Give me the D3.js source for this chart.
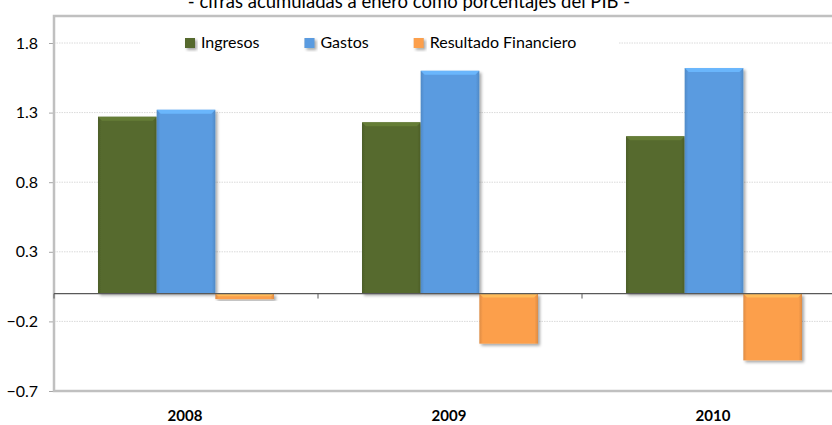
<!DOCTYPE html>
<html>
<head>
<meta charset="utf-8">
<script src="https://cdn.jsdelivr.net/npm/d3@7"></script>
<style>
  body { margin: 0; background: #fff; }
  svg { display: block; font-family: Lato, "Noto Sans", sans-serif; }
</style>
</head>
<body>
<svg id="chart"></svg>
<script>
const years = ["2008", "2009", "2010"];
const series = ["Ingresos", "Gastos", "Resultado Financiero"];
const ingresos = [1.27, 1.23, 1.13];
const gastos = [1.32, 1.60, 1.62];
const resultado = [-0.04, -0.36, -0.48];
const yTicks = [-0.7, -0.2, 0.3, 0.8, 1.3, 1.8];
const title = "- cifras acumuladas a enero como porcentajes del PIB -";

const colours = ["#566a2e", "#5a9be0", "#fc9f4c"];
const values = [ingresos, gastos, resultado];

const W = 832, H = 425;
const margin = { top: 16, right: -14, bottom: 34, left: 54 };
const width = W - margin.left - margin.right;
const height = H - margin.top - margin.bottom;

let svg = d3.select("#chart").attr("width", W).attr("height", H);

// gradients + shadow for the bevel look
let defs = svg.append("defs");
colours.forEach(function (c, i) {
  let g = defs.append("linearGradient").attr("id", "grad" + i)
    .attr("x1", 0).attr("x2", 1).attr("y1", 0).attr("y2", 0);
  let dark = d3.color(c).darker(0.35);
  g.append("stop").attr("offset", "0%").attr("stop-color", dark);
  g.append("stop").attr("offset", "6%").attr("stop-color", c);
  g.append("stop").attr("offset", "94%").attr("stop-color", c);
  g.append("stop").attr("offset", "100%").attr("stop-color", dark);
});
let shadow = defs.append("filter").attr("id", "shadow")
  .attr("x", "-20%").attr("y", "-20%").attr("width", "150%").attr("height", "150%");
shadow.append("feDropShadow").attr("dx", 2).attr("dy", 2)
  .attr("stdDeviation", 1.6).attr("flood-color", "#000").attr("flood-opacity", 0.35);

let container = svg.append("g")
  .attr("transform", "translate(" + margin.left + "," + margin.top + ")");

const x0 = d3.scaleBand().domain(years).range([0, width]).padding(0);
const x1 = d3.scaleBand().domain(series).range([0, x0.bandwidth()])
  .paddingInner(0).paddingOuter(0.75);
const y = d3.scaleLinear().domain([-0.7, 1.994]).range([height, 0]);

// title (cut by the top edge, as in the source image)
svg.append("text")
  .attr("x", 409).attr("y", 8)
  .attr("text-anchor", "middle")
  .attr("font-size", 18.5)
  .attr("fill", "#000")
  .text(title);

// gridlines
container.append("g")
  .selectAll("line")
  .data(yTicks.filter(d => d !== -0.7))
  .enter().append("line")
  .attr("x1", 0).attr("x2", width)
  .attr("y1", d => y(d)).attr("y2", d => y(d))
  .attr("stroke", "#dadada")
  .attr("stroke-dasharray", "1.5,1");

// y axis
let yAxis = container.append("g")
  .call(d3.axisLeft(y).tickValues(yTicks).tickFormat(d3.format(".1f"))
    .tickSize(5).tickPadding(11));
yAxis.select(".domain").remove();
yAxis.selectAll(".tick line").attr("stroke", "#a6a6a6");
yAxis.selectAll(".tick text").attr("font-size", 16).attr("fill", "#000")
  .attr("font-family", "Lato, 'Noto Sans', sans-serif");

// plot border
container.append("rect")
  .attr("x", 0).attr("y", 0).attr("width", width).attr("height", height)
  .attr("fill", "none").attr("stroke", "#c0c0c0").attr("stroke-width", 2.5);

// legend box (hides the gridline behind it)
let legend = container.append("g").attr("transform", "translate(86," + (y(1.8) - 13) + ")");
legend.append("rect")
  .attr("x", 0).attr("y", 0).attr("width", 478).attr("height", 26)
  .attr("fill", "#fff");
let lx = 45;
series.forEach(function (s, i) {
  let item = legend.append("g").attr("transform", "translate(" + lx + ",0)");
  item.append("rect")
    .attr("x", 0).attr("y", 8).attr("width", 10).attr("height", 10)
    .attr("fill", "url(#grad" + i + ")")
    .attr("filter", "url(#shadow)");
  let t = item.append("text")
    .attr("x", 16).attr("y", 18)
    .attr("font-size", 16).attr("fill", "#000")
    .text(s);
  lx += 16 + t.node().getComputedTextLength() + 45;
});

// bars
let groups = container.selectAll(".year")
  .data(years)
  .enter().append("g")
  .attr("class", "year")
  .attr("transform", d => "translate(" + x0(d) + ",0)");

groups.selectAll("g.bar")
  .data((d, yi) => series.map((s, si) => ({ s: s, si: si, v: values[si][yi] })))
  .enter().append("g")
  .attr("class", "bar")
  .each(function (d) {
    let g = d3.select(this);
    let bx = x1(d.s), bw = x1.bandwidth();
    let top = y(Math.max(0, d.v)), bot = y(Math.min(0, d.v));
    g.append("rect")
      .attr("x", bx).attr("y", top)
      .attr("width", bw).attr("height", Math.max(1, bot - top))
      .attr("fill", "url(#grad" + d.si + ")")
      .attr("filter", "url(#shadow)");
    // light bevel strip on top edge
    let bevel = Math.min(4, (bot - top) / 2);
    g.append("path")
      .attr("d", "M" + bx + "," + top + "h" + bw + "l-" + bevel + "," + bevel +
        "h-" + (bw - 2 * bevel) + "z")
      .attr("fill", d3.color(colours[d.si]).brighter(0.5))
      .attr("opacity", 0.9);
  });

// zero axis with category ticks
let zero = container.append("g").attr("transform", "translate(0," + y(0) + ")");
zero.append("line")
  .attr("x1", 0).attr("x2", width)
  .attr("stroke", "#595959").attr("stroke-width", 1.3);
zero.selectAll("line.tick")
  .data(years)
  .enter().append("line")
  .attr("class", "tick")
  .attr("x1", d => x0(d)).attr("x2", d => x0(d))
  .attr("y1", 0).attr("y2", 5)
  .attr("stroke", "#595959");

// category labels
container.selectAll(".cat")
  .data(years)
  .enter().append("text")
  .attr("class", "cat")
  .attr("x", d => x0(d) + x0.bandwidth() / 2 - 1)
  .attr("y", height + 30)
  .attr("text-anchor", "middle")
  .attr("font-size", 15).attr("font-weight", "bold").attr("fill", "#000")
  .text(d => d);
</script>
</body>
</html>
